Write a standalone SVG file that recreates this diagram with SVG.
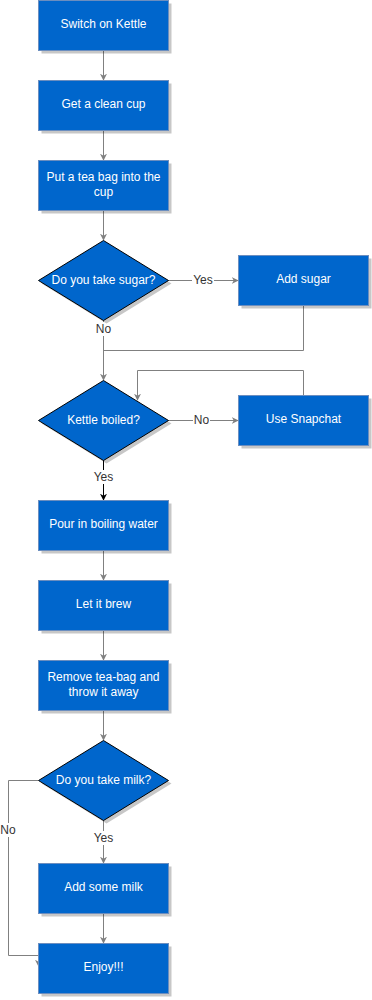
<svg xmlns="http://www.w3.org/2000/svg" width="372" height="1000" viewBox="0 0 372 1000">
  <style>
    .box { fill: #0066CC; stroke: #6C8EBF; stroke-width: 1; }
    .dia { fill: #0066CC; stroke: #000000; stroke-width: 1; }
    .shadow { fill: #000000; opacity: 0.22; }
    .t { font-family: "Liberation Sans", Arial, sans-serif; font-size: 12px; fill: #FFFFFF; text-anchor: middle; dominant-baseline: central; }
    .edge { fill: none; stroke: #808080; stroke-width: 1; }
    .edge-dark { fill: none; stroke: #000000; stroke-width: 1; }
    .lbl { font-family: "Liberation Sans", Arial, sans-serif; font-size: 12px; fill: #333333; text-anchor: middle; dominant-baseline: central; }
    .lblbg { fill: #FFFFFF; }
  </style>
  <defs>
    <marker id="arr" viewBox="0 0 10 10" refX="9" refY="5" markerWidth="7" markerHeight="7" orient="auto" markerUnits="userSpaceOnUse">
      <path d="M0,0 L10,5 L0,10 L3,5 Z" fill="#808080"/>
    </marker>
    <marker id="arr-dark" viewBox="0 0 10 10" refX="9" refY="5" markerWidth="7" markerHeight="7" orient="auto" markerUnits="userSpaceOnUse">
      <path d="M0,0 L10,5 L0,10 L3,5 Z" fill="#000000"/>
    </marker>
  </defs>

  <!-- connectors -->
  <g id="connectors">
    <path class="edge" d="M103.5,50 V80" marker-end="url(#arr)"/>
    <path class="edge" d="M103.5,130 V160" marker-end="url(#arr)"/>
    <path class="edge" d="M103.5,210 V240" marker-end="url(#arr)"/>
    <path class="edge" d="M168,280.5 H238" marker-end="url(#arr)"/>
    <path class="edge" d="M303.5,305 V350.5 H103.5"/>
    <path class="edge" d="M103.5,320 V380" marker-end="url(#arr)"/>
    <path class="edge" d="M168,420.5 H238" marker-end="url(#arr)"/>
    <path class="edge" d="M303.5,395 V370.5 H137.5 V400" marker-end="url(#arr)"/>
    <path class="edge-dark" d="M103.5,460 V500" marker-end="url(#arr-dark)"/>
    <path class="edge" d="M103.5,550 V580" marker-end="url(#arr)"/>
    <path class="edge" d="M103.5,630 V660" marker-end="url(#arr)"/>
    <path class="edge" d="M103.5,710 V740" marker-end="url(#arr)"/>
    <path class="edge" d="M103.5,820 V863" marker-end="url(#arr)"/>
    <path class="edge" d="M103.5,913 V943" marker-end="url(#arr)"/>
    <path class="edge" d="M38,780.5 H8.5 V955.5 H38.5 V966" marker-end="url(#arr)"/>

    <!-- edge labels -->
    <rect class="lblbg" x="192" y="273" width="22" height="14"/>
    <text class="lbl" x="203" y="279.5">Yes</text>
    <rect class="lblbg" x="95" y="322" width="17" height="14"/>
    <text class="lbl" x="103.5" y="329">No</text>
    <rect class="lblbg" x="193" y="413" width="17" height="14"/>
    <text class="lbl" x="201.5" y="419.5">No</text>
    <rect class="lblbg" x="92" y="470" width="23" height="14"/>
    <text class="lbl" x="103.5" y="477">Yes</text>
    <rect class="lblbg" x="92" y="831" width="23" height="14"/>
    <text class="lbl" x="103.5" y="838">Yes</text>
    <rect class="lblbg" x="0" y="823" width="17" height="14"/>
    <text class="lbl" x="8" y="830">No</text>
  </g>

  <g id="switch-on-kettle">
    <rect class="shadow" x="41.5" y="3.5" width="130" height="50"/>
    <rect class="box" x="38.5" y="0.5" width="130" height="50"/>
    <text class="t" x="103.5" y="24">Switch on Kettle</text>
  </g>

  <g id="get-clean-cup">
    <rect class="shadow" x="41.5" y="83.5" width="130" height="50"/>
    <rect class="box" x="38.5" y="80.5" width="130" height="50"/>
    <text class="t" x="103.5" y="104">Get a clean cup</text>
  </g>

  <g id="put-tea-bag">
    <rect class="shadow" x="41.5" y="163.5" width="130" height="50"/>
    <rect class="box" x="38.5" y="160.5" width="130" height="50"/>
    <text class="t" x="103.5" y="177">Put a tea bag into the</text>
    <text class="t" x="103.5" y="192">cup</text>
  </g>

  <g id="take-sugar">
    <polygon class="shadow" points="106.5,243.5 171.5,283.5 106.5,323.5 41.5,283.5"/>
    <polygon class="dia" points="103.5,240.5 168.5,280.5 103.5,320.5 38.5,280.5"/>
    <text class="t" x="103.5" y="280">Do you take sugar?</text>
  </g>

  <g id="add-sugar">
    <rect class="shadow" x="241.5" y="258.5" width="130" height="50"/>
    <rect class="box" x="238.5" y="255.5" width="130" height="50"/>
    <text class="t" x="303.5" y="279">Add sugar</text>
  </g>

  <g id="kettle-boiled">
    <polygon class="shadow" points="106.5,383.5 171.5,423.5 106.5,463.5 41.5,423.5"/>
    <polygon class="dia" points="103.5,380.5 168.5,420.5 103.5,460.5 38.5,420.5"/>
    <text class="t" x="103.5" y="420">Kettle boiled?</text>
  </g>

  <g id="use-snapchat">
    <rect class="shadow" x="241.5" y="398.5" width="130" height="50"/>
    <rect class="box" x="238.5" y="395.5" width="130" height="50"/>
    <text class="t" x="303.5" y="419">Use Snapchat</text>
  </g>

  <g id="pour-water">
    <rect class="shadow" x="41.5" y="503.5" width="130" height="50"/>
    <rect class="box" x="38.5" y="500.5" width="130" height="50"/>
    <text class="t" x="103.5" y="524">Pour in boiling water</text>
  </g>

  <g id="let-brew">
    <rect class="shadow" x="41.5" y="583.5" width="130" height="50"/>
    <rect class="box" x="38.5" y="580.5" width="130" height="50"/>
    <text class="t" x="103.5" y="604">Let it brew</text>
  </g>

  <g id="remove-tea-bag">
    <rect class="shadow" x="41.5" y="663.5" width="130" height="50"/>
    <rect class="box" x="38.5" y="660.5" width="130" height="50"/>
    <text class="t" x="103.5" y="677">Remove tea-bag and</text>
    <text class="t" x="103.5" y="692">throw it away</text>
  </g>

  <g id="take-milk">
    <polygon class="shadow" points="106.5,743.5 171.5,783.5 106.5,823.5 41.5,783.5"/>
    <polygon class="dia" points="103.5,740.5 168.5,780.5 103.5,820.5 38.5,780.5"/>
    <text class="t" x="103.5" y="780">Do you take milk?</text>
  </g>

  <g id="add-milk">
    <rect class="shadow" x="41.5" y="866.5" width="130" height="50"/>
    <rect class="box" x="38.5" y="863.5" width="130" height="50"/>
    <text class="t" x="103.5" y="887">Add some milk</text>
  </g>

  <g id="enjoy">
    <rect class="shadow" x="41.5" y="946.5" width="130" height="50"/>
    <rect class="box" x="38.5" y="943.5" width="130" height="50"/>
    <text class="t" x="103.5" y="967">Enjoy!!!</text>
  </g>
</svg>
